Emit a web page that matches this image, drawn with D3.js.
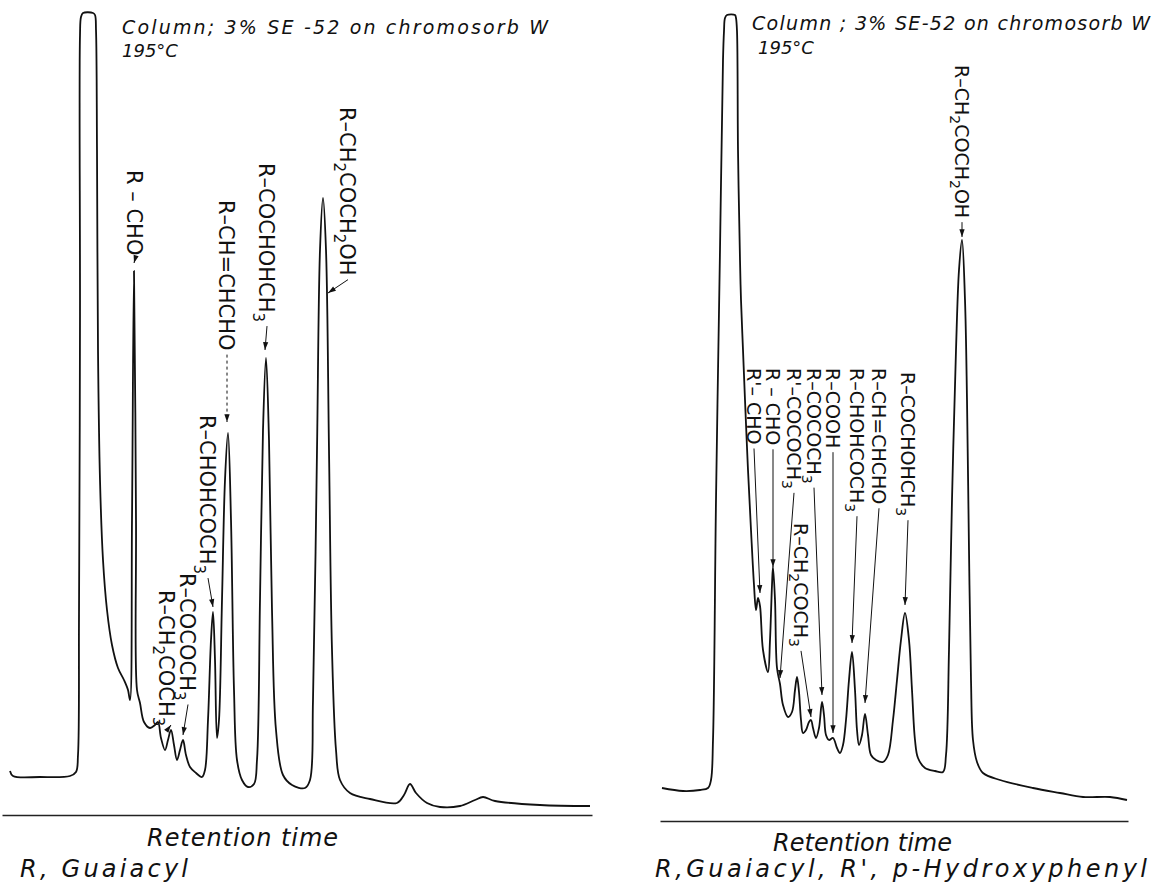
<!DOCTYPE html>
<html>
<head>
<meta charset="utf-8">
<script src="https://cdnjs.cloudflare.com/ajax/libs/d3/7.8.5/d3.min.js"></script>
<style>
body { margin: 0; background: #fff; }
svg text { font-family: "DejaVu Sans", sans-serif; fill: #111; }
.note { font-style: italic; }
</style>
</head>
<body>
<div id="chart"></div>
<script>
// left run: guaiacyl products. time = chart mm from pen start, signal = mm above the paper line
var guaiacylTime = [0,3,30,60,66,68,69,70,70,71,73,83,85,86,87,88,90,93,97,102,108,114,118,120,122,124,126,127,130,134,140,145,148,151,155,158,161,164,167,170,173,176,180,186,192,195,198,201,203,205,207,209,212,215,218,221,224,227,232,238,244,247,250,253,256,259,262,266,273,282,295,300,303,307,310,313,316,319,322,326,330,340,360,387,394,400,406,417,430,450,465,473,485,530,580];
var guaiacylSignal = [44,39,38,39,43,60,200,500,780,798,802,802,800,785,665,465,335,255,205,170,147,135,125,115,295,544,295,125,112,93,87,90,93,77,65,75,85,70,55,65,75,60,48,42,38,45,95,175,203,155,77,95,215,335,382,295,125,55,35,28,31,55,215,385,457,375,205,85,40,30,27,35,115,365,565,617,565,365,165,65,35,22,16,12,20,31,22,12,8,9,15,18,14,10,9];

var guaiacylPeaks = ["R – CHO", "R–CH=CHCHO", "R–COCHOHCH_3", "R–CHOHCOCH_3", "R–COCOCH_3", "R–CH_2COCH_3", "R–CH_2COCH_2OH"];
var guaiacylLabelTime = [125, 217, 257, 198, 178, 157, 338];
var guaiacylLabelSignal = [645, 615, 652, 400, 242, 225, 708];
var guaiacylArrowTime = [124, 217, 255, 203, 173, 161, 318];
var guaiacylArrowSignal = [552, 393, 465, 208, 80, 90, 522];
var guaiacylDashed = [false, true, false, false, false, false, false];

// right run: guaiacyl + p-hydroxyphenyl products
var mixedTime = [2,23,40,48,51,53,56,60,63,64,65,67,75,76,77,78,80,81,83,85,88,91,94,96,98,100,103,108,110,112,113,115,117,120,123,128,132,135,137,139,141,143,146,149,151,153,156,159,162,164,166,169,173,177,180,183,186,189,192,195,197,199,202,205,208,211,216,223,228,233,237,241,245,249,252,255,258,265,275,283,286,289,292,296,299,302,305,307,309,311,313,317,323,340,373,400,423,450,467];
var mixedSignal = [33,30,31,33,41,81,321,571,761,790,803,806,806,803,790,671,561,521,471,421,351,291,236,211,223,215,171,149,181,236,254,221,153,137,116,104,109,131,144,129,101,88,91,99,101,93,83,93,119,106,86,81,83,73,68,76,101,141,169,131,91,76,86,107,86,66,61,59,66,101,141,181,208,181,131,81,63,53,50,49,66,171,321,471,551,581,521,421,271,141,81,59,48,41,33,28,24,24,21];

var mixedPeaks = ["R'– CHO", "R – CHO", "R'–COCOCH_3", "R–COCOCH_3", "R–COOH", "R–CHOHCOCH_3", "R–CH=CHCHO", "R–COCHOHCH_3", "R–CH_2COCH_3", "R–CH_2COCH_2OH"];
var mixedLabelTime = [94, 113, 134, 154, 173, 197, 219, 248, 141, 302];
var mixedLabelSignal = [453, 453, 453, 453, 453, 453, 453, 449, 298, 756];
var mixedArrowTime = [100, 113, 120, 162, 173, 192, 205, 245, 151, 302];
var mixedArrowSignal = [228, 254, 143, 126, 88, 178, 118, 216, 104, 584];

var columnNote = ["Column; 3% SE -52 on chromosorb  W", "Column ; 3% SE-52 on chromosorb W"];
var tempNote = "195°C";
var xTitle = "Retention time";
var sampleNote = ["R, Guaiacyl", "R,Guaiacyl, R', p-Hydroxyphenyl"];

var width = 1164, height = 889;

var svg = d3.select("#chart").append("svg")
    .attr("width", width)
    .attr("height", height);

svg.append("rect").attr("width", width).attr("height", height).attr("fill", "#fff");

svg.append("defs").append("marker")
    .attr("id", "tip")
    .attr("markerUnits", "userSpaceOnUse")
    .attr("viewBox", "0 -4 9 8")
    .attr("refX", 9).attr("refY", 0)
    .attr("markerWidth", 9).attr("markerHeight", 7)
    .attr("orient", "auto")
    .append("path")
    .attr("d", "M0,-3L9,0L0,3Z")
    .attr("fill", "#111");

// writes "R–CH_2COCH_3" with the digits after _ as subscripts
function formula(textSel, str, size) {
    var parts = str.split(/_(\d)/);
    var down = Math.round(size * 0.28);
    parts.forEach(function(p, i) {
        if (p === "") return;
        var t = textSel.append("tspan").text(p);
        if (i % 2 === 1) {
            t.attr("font-size", Math.round(size * 0.72)).attr("dy", down);
        } else if (i > 0) {
            t.attr("dy", -down);
        }
    });
}

function drawPanel(cfg) {
    var g = svg.append("g");
    var x = d3.scaleLinear().domain(cfg.xDomain).range(cfg.xRange);
    var y = d3.scaleLinear().domain(cfg.yDomain).range(cfg.yRange);

    // paper line under the trace
    var xAxisScale = x.copy().domain([cfg.xDomain[0] - cfg.axisPad[0], cfg.xDomain[1] + cfg.axisPad[1]])
        .range([x(cfg.xDomain[0] - cfg.axisPad[0]), x(cfg.xDomain[1] + cfg.axisPad[1])]);
    var axis = g.append("g")
        .attr("transform", "translate(0," + y(0) + ")")
        .call(d3.axisBottom(xAxisScale).ticks(0).tickSizeOuter(0));
    axis.select(".domain").attr("stroke", "#222").attr("stroke-width", 1.4);

    var pts = cfg.time.map(function(t, i) { return [t, cfg.signal[i]]; });
    var line = d3.line()
        .x(function(d) { return x(d[0]); })
        .y(function(d) { return y(d[1]); })
        .curve(d3.curveCatmullRom.alpha(0.5));

    g.append("path")
        .datum(pts)
        .attr("d", line)
        .attr("fill", "none")
        .attr("stroke", "#111")
        .attr("stroke-width", 1.8)
        .attr("stroke-linejoin", "round");

    cfg.peaks.forEach(function(name, i) {
        var lx = x(cfg.labelTime[i]), ly = y(cfg.labelSignal[i]);
        var txt = g.append("text")
            .attr("transform", "translate(" + lx + "," + ly + ") rotate(90)")
            .attr("font-size", cfg.labelSize)
            .attr("dy", "0.36em");
        formula(txt, name, cfg.labelSize);
        var len = txt.node().getComputedTextLength();
        var ax = x(cfg.arrowTime[i]), ay = y(cfg.arrowSignal[i]);
        g.append("line")
            .attr("x1", lx).attr("y1", ly + len + 4)
            .attr("x2", ax).attr("y2", ay)
            .attr("stroke", "#111")
            .attr("stroke-width", 1)
            .attr("stroke-dasharray", cfg.dashed && cfg.dashed[i] ? "3,3" : null)
            .attr("marker-end", "url(#tip)");
    });

    g.append("text").attr("class", "note")
        .attr("x", cfg.colNote[0]).attr("y", cfg.colNote[1])
        .attr("font-size", 19)
        .attr("textLength", cfg.colNote[2]).attr("lengthAdjust", "spacing")
        .text(cfg.colText);
    g.append("text").attr("class", "note")
        .attr("x", cfg.tempPos[0]).attr("y", cfg.tempPos[1])
        .attr("font-size", 18)
        .text(tempNote);
    g.append("text").attr("class", "note")
        .attr("x", cfg.titlePos[0]).attr("y", cfg.titlePos[1])
        .attr("font-size", 24)
        .attr("textLength", cfg.titlePos[2]).attr("lengthAdjust", "spacing")
        .text(xTitle);
    g.append("text").attr("class", "note")
        .attr("x", cfg.samplePos[0]).attr("y", cfg.samplePos[1])
        .attr("font-size", 24)
        .attr("textLength", cfg.samplePos[2]).attr("lengthAdjust", "spacing")
        .text(cfg.sampleText);
}

drawPanel({
    time: guaiacylTime, signal: guaiacylSignal,
    xDomain: [0, 580], xRange: [10, 590],
    yDomain: [0, 802], yRange: [815, 13],
    axisPad: [8, 2],
    peaks: guaiacylPeaks, labelTime: guaiacylLabelTime, labelSignal: guaiacylLabelSignal,
    arrowTime: guaiacylArrowTime, arrowSignal: guaiacylArrowSignal, dashed: guaiacylDashed,
    labelSize: 21,
    colText: columnNote[0], colNote: [122, 34, 426],
    tempPos: [122, 57],
    titlePos: [147, 846, 191],
    sampleText: sampleNote[0], samplePos: [20, 877, 168]
});

drawPanel({
    time: mixedTime, signal: mixedSignal,
    xDomain: [0, 467], xRange: [660, 1127],
    yDomain: [0, 806], yRange: [821, 15],
    axisPad: [0, 1],
    peaks: mixedPeaks, labelTime: mixedLabelTime, labelSignal: mixedLabelSignal,
    arrowTime: mixedArrowTime, arrowSignal: mixedArrowSignal, dashed: null,
    labelSize: 19,
    colText: columnNote[1], colNote: [752, 30, 398],
    tempPos: [758, 54],
    titlePos: [773, 851, 179],
    sampleText: sampleNote[1], samplePos: [655, 877, 492]
});
</script>
</body>
</html>
